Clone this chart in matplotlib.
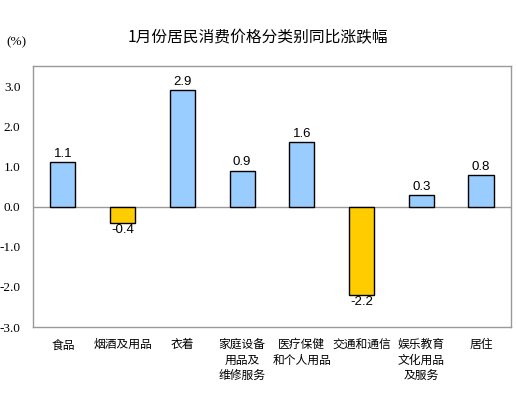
import numpy as np
from matplotlib import pyplot as plt

plt.rcParams['font.family'] = ['Noto Sans CJK SC', 'DejaVu Sans']

categories = ["食品", "烟酒及用品", "衣着", "家庭设备\n用品及\n维修服务", "医疗保健\n和个人用品",
              "交通和通信", "娱乐教育\n文化用品\n及服务", "居住"]
values = [1.1, -0.4, 2.9, 0.9, 1.6, -2.2, 0.3, 0.8]
yticks = [-3.0, -2.0, -1.0, 0.0, 1.0, 2.0, 3.0]

fig = plt.figure(figsize=(5.16, 3.98), dpi=100)
ax = fig.add_axes([0.064, 0.178, 0.926, 0.656])

x = np.arange(len(values))
colors = ['#99CCFF' if v >= 0 else '#FFCC00' for v in values]
ax.bar(x, values, width=0.42, color=colors, edgecolor='black', linewidth=1, zorder=3)
ax.axhline(0, color='#999999', linewidth=1, zorder=2)

for xi, v in zip(x, values):
    if v >= 0:
        ax.text(xi, v + 0.05, '{:.1f}'.format(v), ha='center', va='bottom',
                fontsize=9.5, family='Liberation Sans')
    else:
        ax.text(xi, v - 0.03, '{:.1f}'.format(v), ha='center', va='top',
                fontsize=9.5, family='Liberation Sans')

ax.set_xlim(-0.5, 7.5)
ax.set_ylim(-3.0, 3.5)
ax.set_yticks(yticks)
ax.set_yticklabels(['{:.1f}'.format(t) for t in yticks], family='Liberation Serif', fontsize=9.5)
ax.tick_params(axis='y', length=0, pad=9)
ax.set_xticks(x)
ax.set_xticklabels(categories, fontsize=8.5, linespacing=1.25, va='top')
ax.tick_params(axis='x', length=0, pad=8)

for s in ax.spines.values():
    s.set_color('#999999')
    s.set_linewidth(1)

fig.text(0.5, 0.905, '1月份居民消费价格分类别同比涨跌幅', ha='center', va='center',
         fontsize=11.3, fontweight='medium')
fig.text(0.012, 0.893, '(%)', ha='left', va='center', fontsize=9.5, family='Liberation Serif')

fig.savefig('out.png', dpi=100)
